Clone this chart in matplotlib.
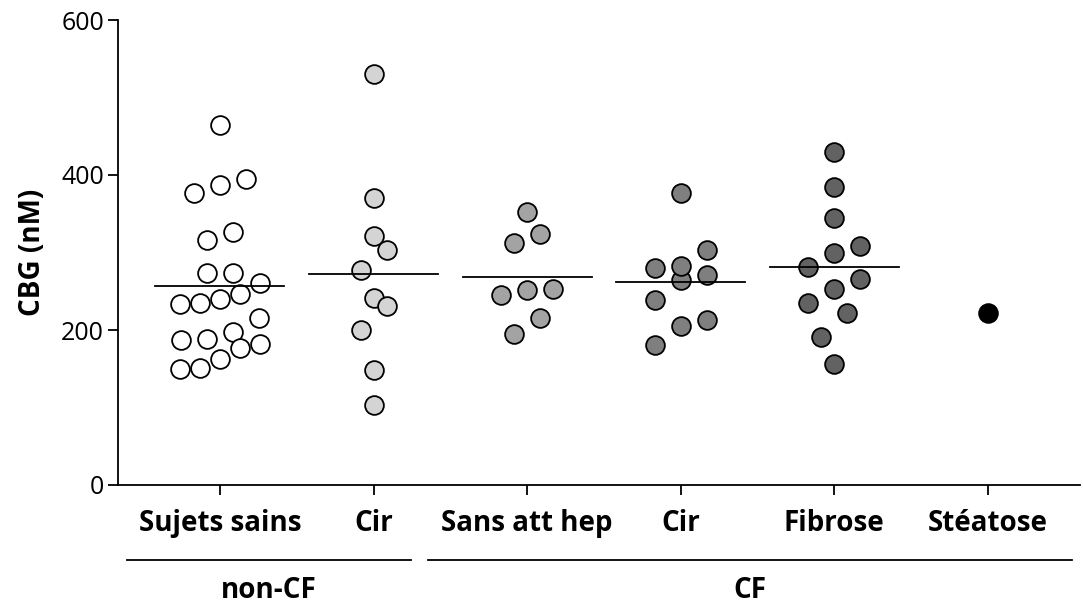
# CBG levels per group - dot plot with mean lines
import numpy as np
import matplotlib.pyplot as plt
from matplotlib.transforms import blended_transform_factory

plt.rcParams['font.family'] = ['Open Sans', 'DejaVu Sans']

## data (nM)
categories = ["Sujets sains", "Cir", "Sans att hep", "Cir", "Fibrose", "Stéatose"]
sujets_sains = [464, 387, 377, 395, 316, 326, 274, 274, 261, 240, 234,
                235, 246, 215, 182, 188, 187, 197, 177, 163, 150, 151]
cir_noncf = [530, 370, 321, 303, 277, 241, 231, 200, 148, 103]
sans_att_hep = [352, 312, 324, 252, 245, 253, 215, 195]
cir_cf = [377, 303, 280, 264, 271, 283, 239, 213, 205, 181]
fibrose = [430, 385, 344, 300, 308, 281, 266, 253, 235, 222, 191, 156]
steatose = [222]

groups = [sujets_sains, cir_noncf, sans_att_hep, cir_cf, fibrose, steatose]
colors = ["white", "#d4d4d4", "#a3a3a3", "#7f7f7f", "#626262", "black"]
super_groups = [("non-CF", -0.605, 1.243), ("CF", 1.354, 5.547)]

fig = plt.figure(figsize=(10.83, 6.03), dpi=100)
ax = fig.add_axes([118/1083, 118/603, 962/1083, 465/603])
ax.set_xlim(-0.664, 5.6)
ax.set_ylim(0, 600)
fig.canvas.draw()

msize = 13.5  # points
px_per_unit = ax.transData.transform([1, 0])[0] - ax.transData.transform([0, 0])[0]


def spread(values, xc, binh=33, step=26, maxw=80):
    # put close values in one row, spread them sideways (prism-like)
    vals = np.array(values, dtype=float)
    order = np.argsort(vals)
    xs = np.full(len(vals), float(xc))
    rows = []
    for i in order:
        if rows and vals[i] - vals[rows[-1][0]] <= binh:
            rows[-1].append(i)
        else:
            rows.append([i])
    for r in rows:
        n = len(r)
        if n == 1:
            continue
        st = min(step, maxw / (n - 1))
        for k, i in enumerate(r):
            xs[i] = xc + (k - (n - 1) / 2) * st / px_per_unit
    return xs


for i, (vals, col) in enumerate(zip(groups, colors)):
    xs = spread(vals, i)
    ax.scatter(xs, vals, s=msize**2, facecolor=col, edgecolor="black",
               linewidth=1.3, zorder=3, clip_on=False)
    if len(vals) > 1:
        m = np.mean(vals)
        ax.plot([i - 0.42, i + 0.42], [m, m], color="black", lw=1.3, zorder=4)

# axes styling
for s in ["top", "right"]:
    ax.spines[s].set_visible(False)
ax.spines["left"].set_linewidth(1.3)
ax.spines["bottom"].set_linewidth(1.3)
ax.set_yticks([0, 200, 400, 600])
ax.tick_params(axis="y", labelsize=18, length=7, width=1.3, pad=3)
ax.set_xticks(range(len(categories)))
ax.set_xticklabels(categories, fontsize=20, fontweight="bold")
ax.tick_params(axis="x", length=7, width=1.3, pad=10)
ax.set_ylabel("CBG (nM)", fontsize=20, fontweight="bold", labelpad=10)

# group brackets under the axis
trans = blended_transform_factory(ax.transData, ax.transAxes)
for name, x0, x1 in super_groups:
    ax.plot([x0, x1], [-0.161, -0.161], color="black", lw=1.3,
            transform=trans, clip_on=False)
    ax.text((x0 + x1) / 2, -0.226, name, transform=trans, ha="center", va="center",
            fontsize=20, fontweight="bold")

plt.savefig("out.png", dpi=100)
